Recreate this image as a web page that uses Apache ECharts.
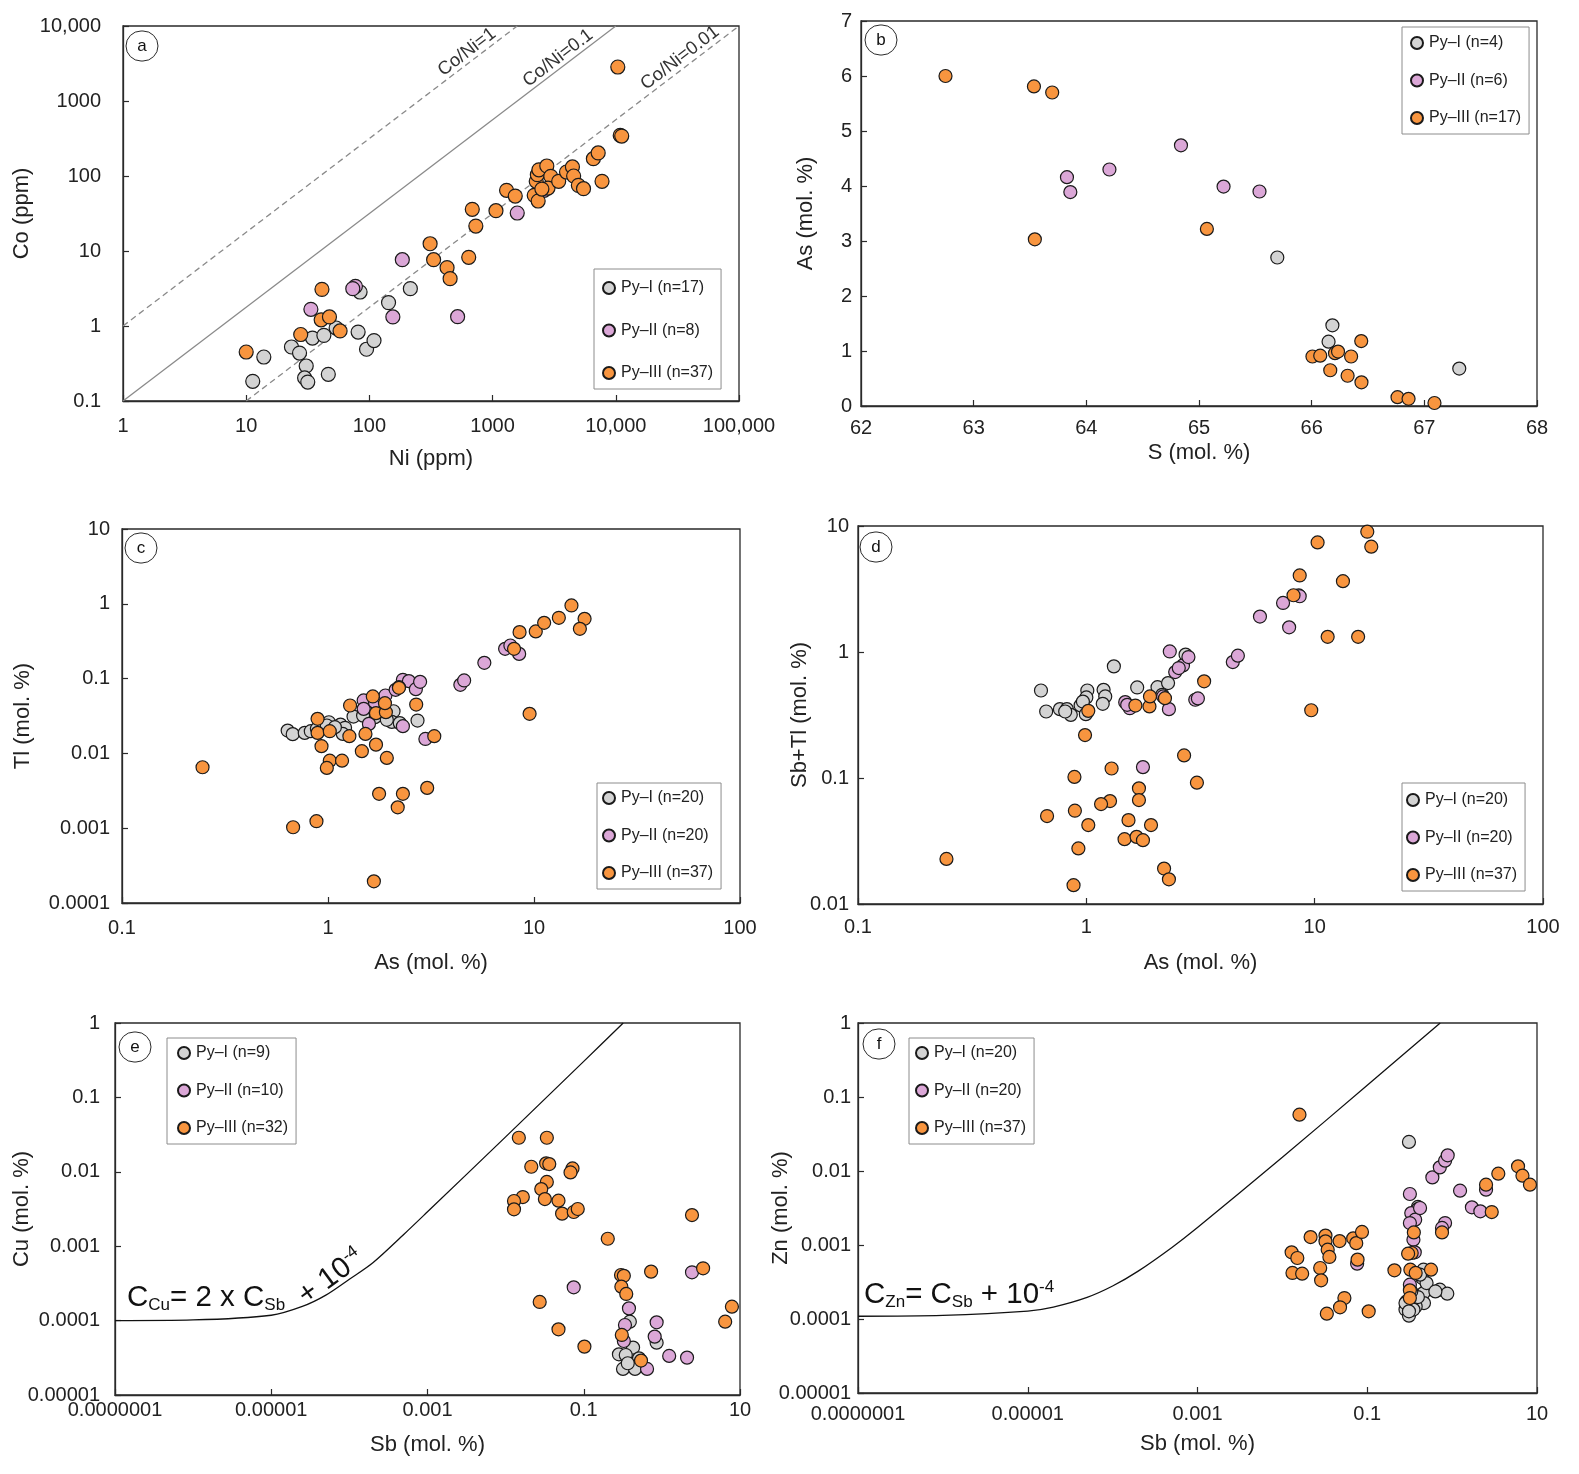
<!DOCTYPE html>
<html><head><meta charset="utf-8">
<script src="https://cdn.jsdelivr.net/npm/echarts@6/dist/echarts.min.js"></script>
<style>html,body{margin:0;padding:0;background:#fff}#c{width:1579px;height:1474px}</style>
</head><body><div id="c"></div>
<script>
// ---------- Panel a: Co vs Ni (ppm) ----------
const aPyI = [[11.3,0.183],[13.9,0.386],[23.3,0.525],[27.1,0.436],[30.7,0.293],[29.8,0.203],[31.6,0.179],[34.5,0.69],[42.7,0.75],[46.4,0.227],[53.7,0.94],[81,0.83],[84,2.84],[94.8,0.49],[109,0.64],[143,2.05],[215,3.15]];
const aPyII = [[33.5,1.67],[77,3.38],[155,1.32],[185,7.66],[520,1.33],[1585,32.1],[2618,64.4],[73.3,3.15]];
const aPyIII = [[10,0.45],[27.7,0.77],[41.2,3.08],[40.6,1.21],[47.4,1.32],[57.8,0.86],[311,12.5],[332,7.66],[427,6.0],[452,4.28],[640,8.24],[684,36],[731,21.5],[1065,34.5],[1298,64.4],[1527,54],[2177,55.2],[2343,46.4],[2260,84.9],[2308,104],[2376,121],[2754,136],[2966,99],[2817,69],[3439,85],[3981,113],[4446,132],[4547,100],[4966,75],[5470,67.8],[6576,170],[7194,203],[7730,85],[10380,2840],[10860,348],[11170,341],[2512,67]];
const aLineCoNi1 = [[1,1],[1585,10000]];
const aLineCoNi01 = [[1,0.1],[10000,10000]];
const aLineCoNi001 = [[10,0.1],[100000,10000]];
const aXLabels = ['1','10','100','1000','10,000','100,000'];
const aYLabels = ['0.1','1','10','100','1000','10,000'];

// ---------- Panel b: As vs S (mol. %) ----------
const bPyI = [[65.695,2.70],[66.184,1.467],[66.15,1.17],[67.31,0.68]];
const bPyII = [[64.84,4.74],[64.205,4.30],[63.828,4.16],[63.858,3.89],[65.218,3.99],[65.537,3.90]];
const bPyIII = [[62.75,6.0],[63.535,5.81],[63.697,5.70],[63.543,3.03],[65.07,3.22],[66.007,0.90],[66.076,0.915],[66.207,0.96],[66.234,0.99],[66.35,0.90],[66.44,1.18],[66.165,0.65],[66.319,0.55],[66.442,0.43],[66.762,0.16],[66.86,0.13],[67.09,0.055]];

// ---------- Panel c: Tl vs As ----------
const cPyI = [[0.637,0.0202],[0.674,0.0181],[0.771,0.0188],[0.825,0.0198],[0.883,0.0213],[1.01,0.0261],[1.15,0.0243],[1.21,0.022],[1.18,0.0182],[1.33,0.0311],[1.69,0.0305],[2.08,0.0366],[2.04,0.0264],[2.23,0.0254],[2.72,0.0275],[0.987,0.0236],[1.48,0.032],[1.85,0.0356],[1.08,0.0224],[1.93,0.0281]];
const cPyII = [[1.49,0.051],[1.49,0.0394],[1.58,0.0248],[1.73,0.0437],[1.90,0.0594],[2.13,0.0708],[2.31,0.0964],[2.47,0.0925],[2.67,0.0722],[2.80,0.0905],[2.31,0.0231],[2.97,0.0156],[4.39,0.0826],[4.58,0.0944],[5.74,0.1626],[7.24,0.25],[7.68,0.277],[8.47,0.214],[1.69,0.0484],[2.21,0.0768]];
const cPyIII = [[0.246,0.00653],[0.89,0.029],[0.89,0.0188],[1.02,0.0198],[0.93,0.0125],[1.02,0.008],[0.987,0.0064],[1.17,0.008],[1.28,0.0437],[1.27,0.017],[1.52,0.0182],[1.65,0.0577],[1.71,0.0345],[1.91,0.0356],[1.89,0.0469],[1.71,0.0131],[1.46,0.0107],[1.93,0.0087],[2.21,0.0753],[2.68,0.045],[3.28,0.017],[0.677,0.00103],[0.879,0.00124],[1.77,0.00288],[2.31,0.00288],[2.18,0.0019],[3.03,0.00346],[1.67,0.000195],[9.52,0.0338],[8.51,0.418],[10.2,0.427],[11.2,0.557],[13.2,0.65],[15.2,0.95],[17.6,0.63],[16.7,0.463],[8.0,0.25]];
const cXLabels = ['0.1','1','10','100'];
const cYLabels = ['0.0001','0.001','0.01','0.1','1','10'];

// ---------- Panel d: Sb+Tl vs As ----------
const dPyI = [[0.633,0.495],[0.667,0.337],[0.766,0.352],[0.822,0.352],[0.855,0.317],[0.944,0.377],[0.995,0.321],[1.01,0.495],[1.0,0.436],[1.19,0.501],[1.21,0.444],[1.18,0.388],[1.32,0.769],[1.67,0.523],[2.05,0.526],[2.28,0.567],[2.72,0.953],[2.15,0.457],[0.966,0.404],[0.808,0.337]];
const dPyII = [[1.48,0.4],[1.55,0.358],[2.30,0.352],[2.32,1.01],[2.45,0.693],[2.65,0.783],[2.80,0.912],[3.0,0.418],[3.08,0.428],[4.38,0.832],[4.61,0.935],[5.76,1.91],[7.27,2.45],[7.73,1.57],[8.52,2.81],[1.77,0.122],[2.17,0.444],[1.51,0.381],[8.6,2.77],[2.54,0.746]];
const dPyIII = [[0.244,0.0228],[1.02,0.341],[0.987,0.219],[1.64,0.376],[1.89,0.37],[1.90,0.444],[2.21,0.43],[3.28,0.585],[9.66,0.345],[10.3,7.41],[17.0,9.01],[17.7,6.85],[8.6,4.05],[13.3,3.65],[8.08,2.82],[11.4,1.32],[15.5,1.32],[2.68,0.151],[1.29,0.119],[0.887,0.102],[3.05,0.0918],[1.70,0.0828],[1.70,0.0668],[1.27,0.0656],[1.16,0.0621],[0.673,0.0499],[0.891,0.055],[1.02,0.0423],[1.53,0.0463],[1.92,0.0423],[1.47,0.0327],[1.66,0.0341],[1.77,0.0321],[0.923,0.0276],[2.19,0.0191],[2.30,0.0157],[0.879,0.0141]];
const dYLabels = ['0.01','0.1','1','10'];

// ---------- Panel e: Cu vs Sb ----------
const ePyI = [[0.389,0.0000968],[0.428,0.0000434],[0.282,0.0000352],[0.345,0.0000345],[0.51,0.0000311],[0.318,0.0000224],[0.453,0.0000224],[0.857,0.0000505],[0.366,0.0000267]];
const ePyII = [[0.0744,0.00028],[0.379,0.000146],[0.337,0.0000873],[0.326,0.0000532],[0.857,0.0000948],[0.809,0.0000609],[1.24,0.0000335],[2.1,0.0000318],[0.646,0.0000224],[2.43,0.000446]];
const ePyIII = [[0.01476,0.0287],[0.0337,0.0287],[0.0213,0.0117],[0.033,0.013],[0.0362,0.0127],[0.0718,0.0111],[0.0677,0.0098],[0.0337,0.0073],[0.0286,0.00586],[0.0318,0.0043],[0.0166,0.00458],[0.0128,0.00405],[0.0128,0.00313],[0.0475,0.00409],[0.0528,0.00274],[0.0744,0.00288],[0.0838,0.00316],[0.203,0.00126],[2.43,0.00262],[0.3,0.00041],[0.326,0.0004],[0.303,0.000286],[0.35,0.000228],[0.728,0.000455],[3.37,0.000505],[0.0273,0.000178],[0.0475,0.0000764],[0.102,0.0000447],[0.307,0.0000641],[0.541,0.000029],[6.46,0.0000968],[7.88,0.000154]];
const eCurve = [[1e-7,1.0e-4],[1e-6,1.02e-4],[1e-5,1.18e-4],[2.5e-5,1.55e-4],[5e-5,2.2e-4],[1e-4,3.6e-4],[2e-4,6.0e-4],[5e-4,1.45e-3],[1e-3,2.9e-3],[1e-2,2.95e-2],[0.1,0.305],[0.32,1.0]];

// ---------- Panel f: Zn vs Sb ----------
const fPyI = [[0.31,0.0247],[0.395,0.00327],[0.445,0.000358],[0.46,0.000464],[0.716,0.000249],[0.877,0.00022],[0.46,0.000224],[0.466,0.000164],[0.292,0.000173],[0.282,0.000134],[0.31,0.000111],[0.372,0.000148],[0.395,0.000198],[0.33,0.000236],[0.35,0.000134],[0.5,0.000306],[0.419,0.000397],[0.282,0.000164],[0.635,0.000236],[0.31,0.000127]];
const fPyII = [[0.318,0.00489],[0.395,0.00306],[0.33,0.0027],[0.367,0.0022],[0.318,0.00198],[0.35,0.00118],[0.585,0.0082],[0.716,0.0112],[0.826,0.0138],[0.887,0.0163],[1.24,0.00542],[1.71,0.00323],[2.15,0.00285],[2.51,0.0056],[0.826,0.00198],[0.076,0.00056],[0.318,0.000291],[0.363,0.000796],[0.76,0.0017],[0.419,0.00316]];
const fPyIII = [[0.0159,0.0577],[0.01285,0.000796],[0.015,0.000667],[0.01315,0.000419],[0.0171,0.00041],[0.0215,0.00128],[0.0322,0.00134],[0.0322,0.00112],[0.0342,0.000865],[0.0358,0.000689],[0.0472,0.00113],[0.0683,0.00123],[0.0742,0.00106],[0.0867,0.0015],[0.0769,0.000634],[0.0279,0.000489],[0.0286,0.000333],[0.0538,0.000192],[0.0478,0.000144],[0.0334,0.000118],[0.104,0.000127],[0.209,0.000455],[0.322,0.000464],[0.354,0.00148],[0.334,0.00078],[0.303,0.000764],[0.372,0.000419],[0.564,0.000464],[0.318,0.000244],[0.318,0.000192],[0.76,0.00148],[2.51,0.00653],[3.5,0.0092],[2.93,0.00279],[5.98,0.01156],[6.74,0.00865],[8.26,0.00653]];
const fCurve = [[1e-7,1.09e-4],[1e-6,1.12e-4],[1e-5,1.28e-4],[2e-5,1.45e-4],[5e-5,1.96e-4],[1e-4,2.79e-4],[2e-4,4.43e-4],[5e-4,9.26e-4],[1e-3,1.72e-3],[1e-2,1.53e-2],[0.1,0.144],[0.724,1.0]];
const efXLabels = ['0.0000001','0.00001','0.001','0.1','10'];
const efYLabels = ['0.00001','0.0001','0.001','0.01','0.1','1'];

// ---------- styling ----------
const FONT = '"Liberation Sans", Arial, Helvetica, sans-serif';
const COL_I = '#d3d3d3', COL_II = '#dba7d7', COL_III = '#f8953f';
const INK = '#2a2a2a';

const grids = [
  {left:123, top:26, width:616, height:375},
  {left:861, top:21, width:676, height:385},
  {left:122, top:529, width:618, height:374},
  {left:858, top:526, width:685, height:378},
  {left:115, top:1023, width:625, height:372},
  {left:858, top:1023, width:679, height:370}
].map(g => Object.assign({show:true, borderColor:INK, borderWidth:1.3, backgroundColor:'#fff'}, g));

function logFmt(labels, minExp, step){
  return v => { const e = Math.round(Math.log10(v)); const i = Math.round((e - minExp)/step); return labels[i] !== undefined ? labels[i] : ''; };
}
function axis(gi, type, min, max, interval, fmt, name, margin, nameGap){
  const o = {
    gridIndex: gi, type: type, min: min, max: max, interval: interval,
    name: name, nameLocation:'middle', nameGap: nameGap, nameMoveOverlap:false,
    nameTextStyle:{fontSize:22, color:'#222', fontFamily:FONT},
    axisLine:{show:true, onZero:false, lineStyle:{color:INK, width:1.3}},
    axisTick:{show:true, inside:true, length:6, lineStyle:{color:INK, width:1.2}},
    minorTick:{show:false}, splitLine:{show:false},
    axisLabel:{fontSize:20, color:'#222', fontFamily:FONT, margin:margin, showMinLabel:true, showMaxLabel:true},
    silent:true
  };
  if (type === 'log') o.logBase = 10;
  if (fmt) o.axisLabel.formatter = fmt;
  return o;
}
const xAxes = [
  axis(0,'log',1,100000,1,logFmt(aXLabels,0,1),'Ni (ppm)',15,47),
  axis(1,'value',62,68,1,null,'S (mol. %)',12,36),
  axis(2,'log',0.1,100,1,logFmt(cXLabels,-1,1),'As (mol. %)',15,49),
  axis(3,'log',0.1,100,1,logFmt(cXLabels,-1,1),'As (mol. %)',13,48),
  axis(4,'log',1e-7,10,2,logFmt(efXLabels,-7,2),'Sb (mol. %)',5,39),
  axis(5,'log',1e-7,10,2,logFmt(efXLabels,-7,2),'Sb (mol. %)',11,40)
];
const yAxes = [
  axis(0,'log',0.1,10000,1,logFmt(aYLabels,-1,1),'Co (ppm)',22,90),
  axis(1,'value',0,7,1,null,'As (mol. %)',9,44),
  axis(2,'log',0.0001,10,1,logFmt(cYLabels,-4,1),'Tl (mol. %)',12,88),
  axis(3,'log',0.01,10,1,logFmt(dYLabels,-2,1),'Sb+Tl (mol. %)',9,47),
  axis(4,'log',0.00001,1,1,logFmt(efYLabels,-5,1),'Cu (mol. %)',15,82),
  axis(5,'log',0.00001,1,1,logFmt(efYLabels,-5,1),'Zn (mol. %)',7,66)
];

function sc(name, data, gi, color, size){
  return {type:'scatter', name:name, data:data, xAxisIndex:gi, yAxisIndex:gi, symbol:'circle', symbolSize:size,
    itemStyle:{color:color, borderColor:'#1a1a1a', borderWidth:1.2, opacity:1}, emphasis:{disabled:true}, z:3, silent:true};
}
function ln(name, data, gi, color, type, smooth){
  return {type:'line', name:name, data:data, xAxisIndex:gi, yAxisIndex:gi, showSymbol:false, symbol:'none', smooth:smooth||false,
    lineStyle:{color:color, width:1.3, type:type}, emphasis:{disabled:true}, z:2, silent:true};
}
const namesA = ['Py–I (n=17)','Py–II (n=8)','Py–III (n=37)'];
const namesB = ['Py–I (n=4)','Py–II (n=6)','Py–III (n=17)'];
const namesC = ['Py–I (n=20)','Py–II (n=20)','Py–III (n=37)'];
const namesE = ['Py–I (n=9)','Py–II (n=10)','Py–III (n=32)'];

const series = [
  ln('Co/Ni=1', aLineCoNi1, 0, '#8a8a8a', [6,4]),
  ln('Co/Ni=0.1', aLineCoNi01, 0, '#8a8a8a', 'solid'),
  ln('Co/Ni=0.01', aLineCoNi001, 0, '#8a8a8a', [6,4]),
  sc(namesA[0], aPyI, 0, COL_I, 14), sc(namesA[1], aPyII, 0, COL_II, 14), sc(namesA[2], aPyIII, 0, COL_III, 14),
  sc(namesB[0], bPyI, 1, COL_I, 13), sc(namesB[1], bPyII, 1, COL_II, 13), sc(namesB[2], bPyIII, 1, COL_III, 13),
  sc(namesC[0], cPyI, 2, COL_I, 13), sc(namesC[1], cPyII, 2, COL_II, 13), sc(namesC[2], cPyIII, 2, COL_III, 13),
  sc(namesC[0], dPyI, 3, COL_I, 13), sc(namesC[1], dPyII, 3, COL_II, 13), sc(namesC[2], dPyIII, 3, COL_III, 13),
  ln('Cu curve', eCurve, 4, '#111', 'solid', 0.3),
  sc(namesE[0], ePyI, 4, COL_I, 13), sc(namesE[1], ePyII, 4, COL_II, 13), sc(namesE[2], ePyIII, 4, COL_III, 13),
  ln('Zn curve', fCurve, 5, '#111', 'solid', 0.3),
  sc(namesC[0], fPyI, 5, COL_I, 13), sc(namesC[1], fPyII, 5, COL_II, 13), sc(namesC[2], fPyIII, 5, COL_III, 13)
];

function lg(names, left, top, gap, padTop, padLeft){
  return {orient:'vertical', left:left, top:top, data:names, icon:'circle', itemWidth:14, itemHeight:12, itemGap:gap,
    padding:[padTop,8,7,padLeft], borderColor:'#8c8c8c', borderWidth:1, backgroundColor:'#fff', selectedMode:false,
    textStyle:{fontSize:16, color:'#222', fontFamily:FONT, lineHeight:18}};
}
const legends = [
  lg(namesA, 594, 269, 24.5, 10, 8),
  lg(namesB, 1402, 27, 19.5, 7, 8),
  lg(namesC, 597, 783, 19.5, 6, 5),
  lg(namesC, 1402, 783, 19.5, 8, 4),
  lg(namesE, 167, 1038, 19.5, 6, 10),
  lg(namesC, 909, 1038, 19.5, 6, 6)
];

function tag(letter, cx, cy){
  return [
    {type:'rect', shape:{x:cx-16, y:cy-15, width:32, height:30, r:15}, style:{fill:'#fff', stroke:INK, lineWidth:1}, z:10, silent:true},
    {type:'text', x:cx, y:cy, style:{text:letter, fontSize:17, fontFamily:FONT, fill:'#111', align:'center', verticalAlign:'middle'}, z:11, silent:true}
  ];
}
const rich = {
  n:{fontSize:29.5, fontFamily:FONT, fill:'#111', lineHeight:32, verticalAlign:'middle'},
  s:{fontSize:17, fontFamily:FONT, fill:'#111', lineHeight:19, verticalAlign:'bottom'},
  p:{fontSize:17, fontFamily:FONT, fill:'#111', lineHeight:26, verticalAlign:'top'}
};
const graphics = [].concat(
  tag('a',142,46), tag('b',881,40), tag('c',141,548), tag('d',876,547), tag('e',135,1047), tag('f',879,1044),
  [
    {type:'text', x:467, y:52, rotation:0.651, style:{text:'Co/Ni=1', fontSize:18.5, fontFamily:FONT, fill:'#333', align:'center', verticalAlign:'middle'}, z:5, silent:true},
    {type:'text', x:558, y:58, rotation:0.651, style:{text:'Co/Ni=0.1', fontSize:18.5, fontFamily:FONT, fill:'#333', align:'center', verticalAlign:'middle'}, z:5, silent:true},
    {type:'text', x:680, y:58, rotation:0.651, style:{text:'Co/Ni=0.01', fontSize:18.5, fontFamily:FONT, fill:'#333', align:'center', verticalAlign:'middle'}, z:5, silent:true},
    {type:'text', x:127, y:1298, style:{text:'{n|C}{s|Cu}{n|= 2 x C}{s|Sb}', rich:rich, align:'left', verticalAlign:'middle'}, z:5, silent:true},
    {type:'text', x:331, y:1277, rotation:0.63, style:{text:'{n|+ 10}{p|-4}', rich:rich, align:'center', verticalAlign:'middle'}, z:5, silent:true},
    {type:'text', x:864, y:1295, style:{text:'{n|C}{s|Zn}{n|= C}{s|Sb}{n| + 10}{p|-4}', rich:rich, align:'left', verticalAlign:'middle'}, z:5, silent:true}
  ]
);

const chart = echarts.init(document.getElementById('c'), null, {renderer:'canvas'});
chart.setOption({
  animation:false,
  backgroundColor:'#fff',
  textStyle:{fontFamily:FONT},
  grid: grids, xAxis: xAxes, yAxis: yAxes,
  legend: legends, series: series, graphic: graphics
});
</script></body></html>
